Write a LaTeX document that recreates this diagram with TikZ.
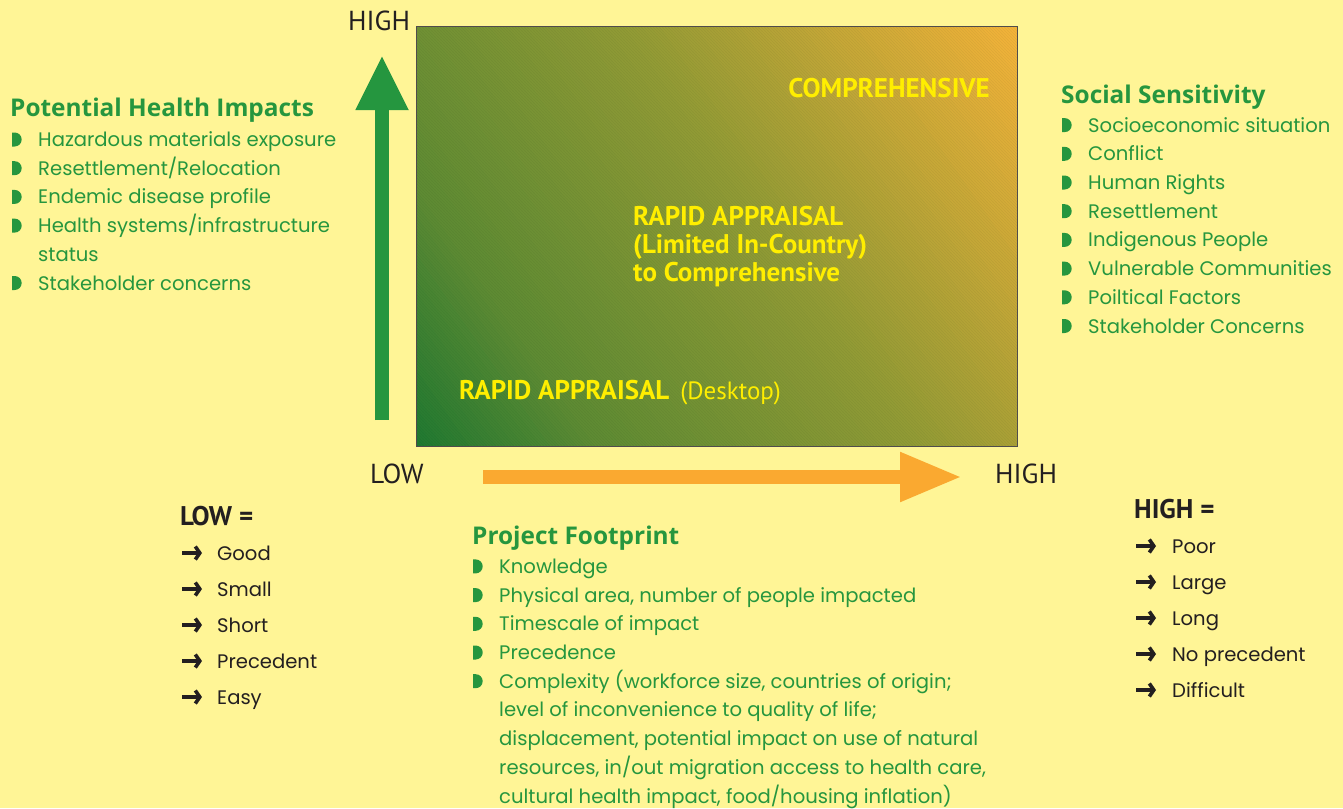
\documentclass[tikz,border=0pt]{standalone}
\usepackage{fontspec}
\setmainfont{Poppins}
\newfontfamily\headfont{PT Sans}
\newfontfamily\hfont{Open Sans}
\usetikzlibrary{arrows.meta,patterns}
\definecolor{bg}{HTML}{FFF596}
\definecolor{tgreen}{HTML}{26963E}
\definecolor{agreen}{HTML}{25963F}
\definecolor{aorange}{HTML}{FAA930}
\definecolor{boxgreen}{HTML}{217A32}
\definecolor{gcone}{HTML}{5F8C34}
\definecolor{gctwo}{HTML}{919B36}
\definecolor{boxorange}{HTML}{F6B43A}
\definecolor{boxyellow}{HTML}{FFEE00}
\definecolor{ink}{HTML}{231F20}
\newcommand{\bul}{\makebox[26pt][l]{\tikz[x=1pt,y=1pt,baseline=0pt]{\fill[tgreen] (0,0) -- (0,14) -- (2.5,14) arc[start angle=90,end angle=-90,radius=7] -- cycle;}}}
\newcommand{\arr}[1]{\makebox[#1][l]{\tikz[x=1pt,y=1pt,baseline=0pt]{\draw[ink, line width=3.6pt, -{Straight Barb[length=4.5pt,width=13pt]}] (0,7) -- (20,7);}}}
\tikzset{
  listgreen/.style={anchor=base west, inner sep=0pt, align=left, text=tgreen,
    font=\fontsize{19.6}{28.7}\selectfont},
  listblack/.style={anchor=base west, inner sep=0pt, align=left, text=ink,
    font=\fontsize{19.6}{36}\selectfont},
  heading/.style={anchor=base west, inner sep=0pt, text=tgreen,
    font=\hfont\bfseries\fontsize{24.4}{24.4}\selectfont},
  eqhead/.style={anchor=base west, inner sep=0pt, text=ink,
    font=\headfont\bfseries\fontsize{27}{27}\selectfont},
  axislabel/.style={anchor=base west, inner sep=0pt, text=ink,
    font=\headfont\fontsize{27.5}{27.5}\selectfont},
  boxtext/.style={inner sep=0pt, text=boxyellow,
    font=\headfont\bfseries\fontsize{27}{28}\selectfont},
}
\begin{document}
\begin{tikzpicture}[x=1pt,y=-1pt]
\useasboundingbox (0,0) rectangle (1343,808);
\fill[bg] (0,0) rectangle (1343,808);
% main box: gradient from bottom-left corner to top-right corner
\begin{scope}
\clip (416,27) rectangle (1017,446);
\foreach \i in {0,...,99}{
  \ifnum\i<20
    \pgfmathtruncatemacro{\p}{\i*5}\colorlet{stripe}{gcone!\p!boxgreen}
  \else\ifnum\i<55
    \pgfmathtruncatemacro{\p}{(\i-20)*100/35}\colorlet{stripe}{gctwo!\p!gcone}
  \else
    \pgfmathtruncatemacro{\p}{(\i-55)*100/45}\colorlet{stripe}{boxorange!\p!gctwo}
  \fi\fi
  \pgfmathsetmacro{\xa}{416+6.01*\i}
  \pgfmathsetmacro{\ya}{446-4.19*\i}
  \pgfmathsetmacro{\xb}{416+6.01*(\i+1.5)}
  \pgfmathsetmacro{\yb}{446-4.19*(\i+1.5)}
  \fill[stripe] ({\xa+240},{\ya+345}) -- ({\xa-240},{\ya-345})
    -- ({\xb-240},{\yb-345}) -- ({\xb+240},{\yb+345}) -- cycle;
}
\fill[pattern=north west lines, pattern color=black, opacity=0.05]
  (416,27) rectangle (1017,446);
\end{scope}
\draw[ink!80, line width=1pt] (416,27) rectangle (1017,446);
% box labels
\node[boxtext, anchor=base east] (comp) at (990,97) {COMPREHENSIVE};
\node[boxtext, anchor=base west, align=left] (mid) at (633,281)
  {RAPID APPRAISAL\\(Limited In-Country)\\to Comprehensive};
\node[boxtext, anchor=base west] (desk) at (459,399)
  {RAPID APPRAISAL {\mdseries\fontsize{25}{25}\selectfont\,(Desktop)}};
% axis labels
\node[axislabel] (yhigh) at (348,31) {HIGH};
\node[axislabel] (xlow) at (370,483) {LOW};
\node[axislabel] (xhigh) at (995,483) {HIGH};
% axis arrows
\coordinate (ya) at (382,420);
\coordinate (yb) at (382,55);
\coordinate (xa) at (483,477);
\coordinate (xb) at (962,477);
\draw[agreen, line width=14pt, -{Triangle[length=55pt,width=49pt]}] (ya) -- (yb);
\draw[aorange, line width=14pt, -{Triangle[length=62pt,width=46pt]}] (xa) -- (xb);
% Potential Health Impacts
\node[heading] (phih) at (10,116) {Potential Health Impacts};
\node[listgreen] (phil) at (12,290) {\bul Hazardous materials exposure\\
\bul Resettlement/Relocation\\
\bul Endemic disease profile\\
\bul Health systems/infrastructure\\
\hspace*{26pt}status\\
\bul Stakeholder concerns};
% Social Sensitivity
\node[heading] (ssh) at (1061,103) {Social Sensitivity};
\node[listgreen] (ssl) at (1062,333) {\bul Socioeconomic situation\\
\bul Conflict\\
\bul Human Rights\\
\bul Resettlement\\
\bul Indigenous People\\
\bul Vulnerable Communities\\
\bul Poiltical Factors\\
\bul Stakeholder Concerns};
% Project Footprint
\node[heading] (pfh) at (472,544) {Project Footprint};
\node[listgreen] (pfl) at (473,803) {\bul Knowledge\\
\bul Physical area, number of people impacted\\
\bul Timescale of impact\\
\bul Precedence\\
\bul Complexity (workforce size, countries of origin;\\
\hspace*{26pt}level of inconvenience to quality of life;\\
\hspace*{26pt}displacement, potential impact on use of natural\\
\hspace*{26pt}resources, in/out migration access to health care,\\
\hspace*{26pt}cultural health impact, food/housing inflation)};
% LOW =
\node[eqhead] (lowh) at (180,525) {LOW =};
\node[listblack] (lowl) at (180,704) {\arr{37pt}Good\\
\arr{37pt}Small\\
\arr{37pt}Short\\
\arr{37pt}Precedent\\
\arr{37pt}Easy};
% HIGH =
\node[eqhead] (highh) at (1134,518) {HIGH =};
\node[listblack] (highl) at (1134,697) {\arr{38pt}Poor\\
\arr{38pt}Large\\
\arr{38pt}Long\\
\arr{38pt}No precedent\\
\arr{38pt}Difficult};
\end{tikzpicture}
\end{document}
